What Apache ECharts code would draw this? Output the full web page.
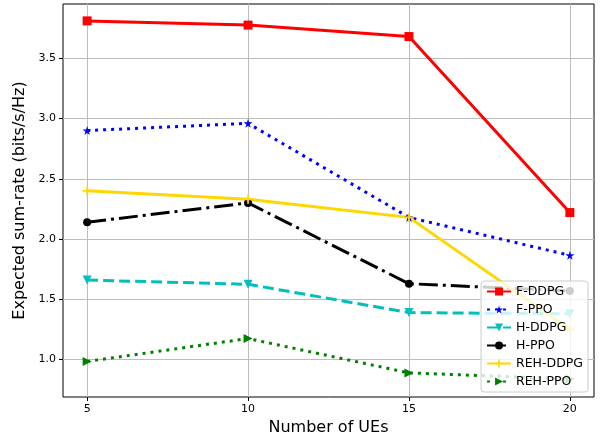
<!DOCTYPE html>
<html>
<head>
<meta charset="utf-8">
<script src="https://cdn.jsdelivr.net/npm/echarts@6/dist/echarts.min.js"></script>
<style>
  html, body { margin: 0; padding: 0; background: #fff; }
  #chart { width: 605px; height: 441px; }
</style>
</head>
<body>
<div id="chart"></div>
<script>
"use strict";

// data
var ues = [5, 10, 15, 20];
var fDdpg = [3.81, 3.775, 3.68, 2.22];
var fPpo = [2.90, 2.96, 2.18, 1.865];
var hDdpg = [1.66, 1.625, 1.39, 1.38];
var hPpo = [2.14, 2.30, 1.63, 1.57];
var rehDdpg = [2.40, 2.33, 2.18, 1.25];
var rehPpo = [0.985, 1.175, 0.89, 0.84];
var yTicks = [1.0, 1.5, 2.0, 2.5, 3.0, 3.5];

var STAR = 'path://M50,0 L61,35 L98,35 L68,57 L79,91 L50,70 L21,91 L32,57 L2,35 L39,35 Z';
var PLUS = 'path://M4,0 L6,0 L6,4 L10,4 L10,6 L6,6 L6,10 L4,10 L4,6 L0,6 L0,4 L4,4 Z';

function pairs(vals) {
    return ues.map(function (x, i) { return [x, vals[i]]; });
}

function mkSeries(name, vals, color, dash, symbol, size, rotate) {
    return {
        name: name,
        type: 'line',
        data: pairs(vals),
        symbol: symbol,
        symbolSize: size,
        symbolRotate: rotate || 0,
        showAllSymbol: true,
        lineStyle: { color: color, width: 3, type: dash },
        itemStyle: { color: color },
        emphasis: { disabled: true },
        animation: false
    };
}

var chart = echarts.init(document.getElementById('chart'), null, { renderer: 'canvas' });

var font = 'DejaVu Sans';

var option = {
    backgroundColor: '#fff',
    textStyle: { fontFamily: font },
    grid: {
        left: 63, right: 11, top: 4, bottom: 43,
        show: true, borderColor: '#000', borderWidth: 1, backgroundColor: 'transparent'
    },
    xAxis: {
        type: 'value',
        min: 4.25, max: 20.75,
        name: 'Number of UEs',
        nameLocation: 'middle',
        nameGap: 23,
        nameTextStyle: { fontSize: 16, color: '#000', fontFamily: font },
        axisLine: { show: false },
        axisTick: { show: true, length: 4, inside: false, customValues: ues, lineStyle: { color: '#000' } },
        axisLabel: { customValues: ues, fontSize: 11, color: '#000', margin: 7, fontFamily: font },
        splitLine: { show: true, lineStyle: { color: '#bdbdbd', width: 1 } }
    },
    yAxis: {
        type: 'value',
        min: 0.69, max: 3.95,
        name: 'Expected sum-rate (bits/s/Hz)',
        nameLocation: 'middle',
        nameGap: 33,
        nameTextStyle: { fontSize: 16, color: '#000', fontFamily: font },
        axisLine: { show: false },
        axisTick: { show: true, length: 4, customValues: yTicks, lineStyle: { color: '#000' } },
        axisLabel: {
            customValues: yTicks, fontSize: 11, color: '#000', margin: 7, fontFamily: font,
            formatter: function (v) { return v.toFixed(1); }
        },
        splitLine: { show: true, lineStyle: { color: '#bdbdbd', width: 1 } }
    },
    legend: {
        orient: 'vertical',
        right: 17, bottom: 49,
        itemWidth: 24, itemHeight: 10,
        itemGap: 5,
        padding: [4, 5, 4, 5],
        backgroundColor: 'rgba(255,255,255,0.8)',
        borderColor: '#cccccc', borderWidth: 1, borderRadius: 3,
        textStyle: { fontSize: 12.5, color: '#000', fontFamily: font },
        data: ['F-DDPG', 'F-PPO', 'H-DDPG', 'H-PPO', 'REH-DDPG', 'REH-PPO']
    },
    series: [
        mkSeries('F-DDPG', fDdpg, '#ff0000', 'solid', 'rect', 9),
        mkSeries('F-PPO', fPpo, '#0000ff', [3, 5], STAR, 9),
        mkSeries('H-DDPG', hDdpg, '#00bfbf', [11, 5], 'triangle', 9, 180),
        mkSeries('H-PPO', hPpo, '#000000', [19, 5, 3, 5], 'circle', 8),
        mkSeries('REH-DDPG', rehDdpg, '#ffd700', 'solid', PLUS, 9),
        mkSeries('REH-PPO', rehPpo, '#008000', [3, 5], 'triangle', 9, -90)
    ]
};

chart.setOption(option);
</script>
</body>
</html>
